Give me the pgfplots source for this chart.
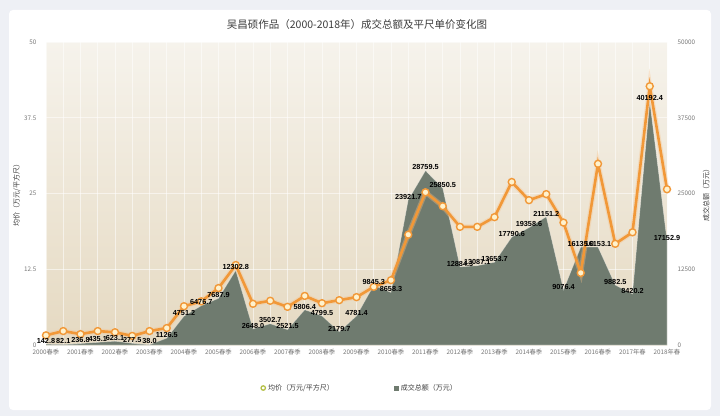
\documentclass[border=0pt]{standalone}
\usepackage{pgfplots}
\pgfplotsset{compat=1.18}
\usepackage{pgfplotstable}
\usepackage{fontspec}
\setmainfont{Noto Sans CJK SC}
\newfontfamily\numfont{Liberation Sans}
\definecolor{outerbg}{RGB}{238,240,245}
\definecolor{bgtop}{RGB}{246,243,236}
\definecolor{bgbottom}{RGB}{229,217,193}
\definecolor{areacol}{RGB}{111,123,111}
\definecolor{linecol}{RGB}{241,152,56}
\definecolor{markfill}{RGB}{255,242,205}
\definecolor{tickgray}{RGB}{120,120,120}
\definecolor{titlegray}{RGB}{60,60,60}
\definecolor{legendgreen}{RGB}{180,192,70}

\pgfplotstableread{
x price total
0 1.6 142.8
1 2.3 82.1
2 1.8 236.8
3 2.3 435.1
4 2.1 623.1
5 1.5 277.5
6 2.3 38.0
7 2.8 1126.5
8 6.4 4751.2
9 7.2 6476.7
10 9.4 7687.9
11 13.2 12302.8
12 6.8 2648.0
13 7.3 3502.7
14 6.3 2521.5
15 8.1 5806.4
16 6.9 4799.5
17 7.4 2179.7
18 7.9 4781.4
19 9.6 9845.3
20 10.7 8658.3
21 18.2 23921.7
22 25.2 28759.5
23 22.9 25850.5
24 19.5 12884.3
25 19.5 13087.1
26 21.1 13653.7
27 26.9 17790.6
28 23.9 19358.6
29 24.9 21151.2
30 20.2 9076.4
31 11.9 16135.0
32 29.9 16153.1
33 16.7 9882.5
34 18.6 8420.2
35 42.7 40192.4
36 25.7 17152.9
}\datatable

\begin{document}
\begin{tikzpicture}[x=1pt,y=1pt]
\fill[outerbg] (0,0) rectangle (720,416);
\fill[white, rounded corners=4pt] (9,6) rectangle (711,406);
\node[font=\fontsize{10.5}{12}\selectfont, text=titlegray] at (357,391) {吴昌硕作品（2000-2018年）成交总额及平尺单价变化图};

\begin{axis}[
  at={(46pt,71pt)}, anchor=south west, scale only axis,
  width=621pt, height=303pt,
  xmin=0, xmax=36, ymin=0, ymax=50000,
  axis line style={draw=none}, major tick length=0pt, minor tick length=0pt,
  xtick={0,2,...,36},
  minor x tick num=1,
  xticklabels={2000春季,2001春季,2002春季,2003春季,2004春季,2005春季,2006春季,2007春季,2008春季,2009春季,2010春季,2011春季,2012春季,2013春季,2014春季,2015春季,2016春季,2017年春,2018年春},
  x tick label style={font=\fontsize{6.3}{7}\selectfont, text=tickgray, yshift=-1pt},
  ytick={0,12500,25000,37500,50000},
  scaled y ticks=false,
  yticklabel pos=right,
  y tick label style={font=\fontsize{6.3}{7}\selectfont, text=tickgray, xshift=7pt, /pgf/number format/1000 sep={}, /pgf/number format/assume math mode=true},
  axis background/.style={top color=bgtop, bottom color=bgbottom},
  xmajorgrids, xminorgrids, ymajorgrids,
  major grid style={white, opacity=0.55, line width=0.6pt},
  minor grid style={white, opacity=0.55, line width=0.6pt},
  ylabel={成交总额（万元）},
  every axis y label/.style={at={(axis description cs:1.063,0.5)}, rotate=90, anchor=center, font=\fontsize{7}{8}\selectfont, text=titlegray},
]
\addplot[fill=areacol, draw=white, draw opacity=0.35, line width=0.6pt] table[x=x,y=total]{\datatable} \closedcycle;
\end{axis}

\begin{axis}[
  at={(46pt,71pt)}, anchor=south west, scale only axis,
  width=621pt, height=303pt,
  xmin=0, xmax=36, ymin=0, ymax=50,
  axis line style={draw=none}, major tick length=0pt,
  xtick=\empty,
  ytick={0,12.5,25,37.5,50},
  yticklabel pos=left,
  y tick label style={font=\fontsize{6.3}{7}\selectfont, text=tickgray, xshift=-6pt, /pgf/number format/assume math mode=true},
  ylabel={均价（万元/平方尺）},
  every axis y label/.style={at={(axis description cs:-0.047,0.5)}, rotate=90, anchor=center, font=\fontsize{7}{8}\selectfont, text=titlegray},
  clip=false,
  legend style={at={(axis description cs:0.505,-0.142)}, anchor=center, draw=none, fill=none, legend columns=2, font=\fontsize{7}{8}\selectfont, text=titlegray, /tikz/every even column/.append style={column sep=58pt}},
  legend cell align=left,
]
\addplot[linecol!60, opacity=0.35, line width=5pt, forget plot] table[x=x,y=price]{\datatable};
\addplot[linecol, line width=2.6pt, mark=*, mark size=3.5pt, mark options={fill=markfill, draw=linecol, line width=1.4pt},
  legend image code/.code={\draw[legendgreen, line width=1.3pt, fill=white] (0.15cm,0) circle (2.2pt);}]
  table[x=x,y=price]{\datatable};
\addlegendentry{均价（万元/平方尺）}
\addlegendimage{area legend, fill=areacol, draw=none, legend image code/.code={\fill[areacol] (0.08cm,-2.5pt) rectangle (0.08cm+5pt,2.5pt);}}
\addlegendentry{成交总额（万元）}
\addplot[draw=none, mark=none, forget plot, point meta=explicit,
  nodes near coords={\pgfmathprintnumber[fixed, fixed zerofill, precision=1, 1000 sep={}, assume math mode=true]{\pgfplotspointmeta}},
  every node near coord/.append style={font=\numfont\bfseries\fontsize{7.3}{8}\selectfont, text=black, anchor=south, inner sep=0.5pt}]
  table[x=x, y expr=\thisrow{total}/1000, meta=total]{\datatable};
\end{axis}
\end{tikzpicture}
\end{document}
